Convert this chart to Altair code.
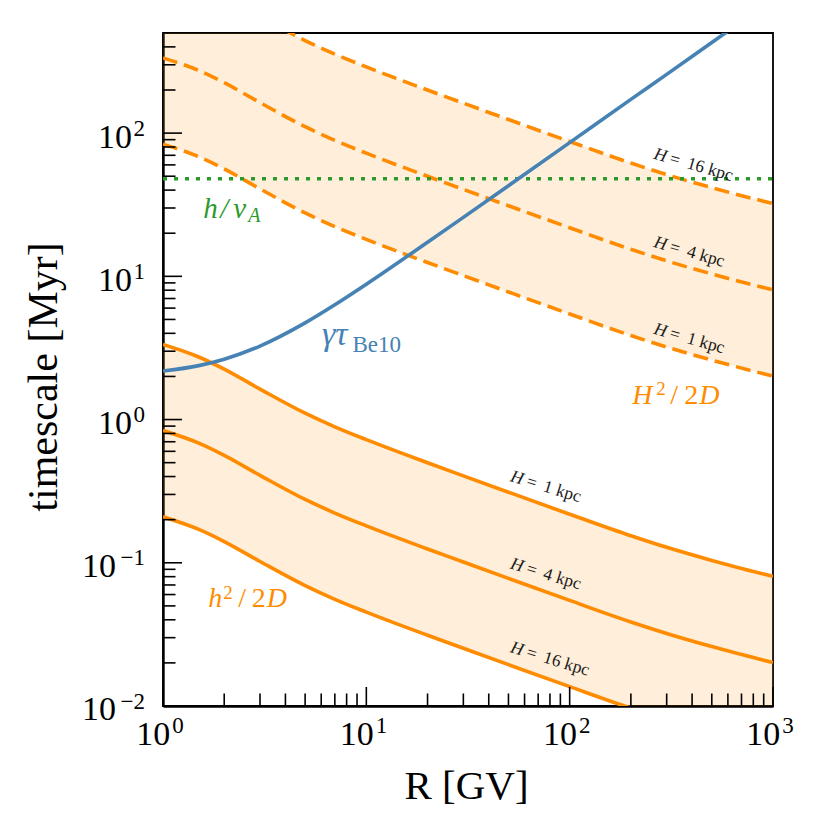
import altair as alt
import pandas as pd

SERIF = "'Liberation Serif', 'Times New Roman', Times, 'Nimbus Roman', serif"
ORANGE = "#ff8c00"
BLUE = "#4682b4"
GREEN = "#2b9a2b"
INK = "#1a1a1a"

W, H = 610, 673  # plot area [px]
LW = 3.6         # curve width

# ---------------- data ----------------
rigidity = [1, 1.5, 2, 3, 5, 7, 10, 20, 30, 50, 100, 200, 300, 500, 1000]  # GV

# disc crossing time h^2/2D for three halo heights [Myr]
disc_H1 = [3.35, 2.735, 2.249, 1.633, 1.108, 0.890, 0.724, 0.4995, 0.4046, 0.3111, 0.2184, 0.1544, 0.1282, 0.1039, 0.0804]
disc_H4 = [0.8375, 0.684, 0.562, 0.408, 0.277, 0.2225, 0.181, 0.1249, 0.1012, 0.0778, 0.0546, 0.0386, 0.0321, 0.0260, 0.0201]
disc_H16 = [0.2094, 0.1709, 0.1406, 0.1021, 0.0693, 0.0556, 0.04525, 0.0312, 0.0253, 0.01944, 0.01365, 0.00965, 0.00801, 0.00649, 0.00503]

# halo escape time H^2/2D [Myr]
halo_H1 = [83.75, 68.4, 56.2, 40.8, 27.7, 22.25, 18.1, 12.49, 10.12, 7.78, 5.46, 3.86, 3.205, 2.60, 2.01]
halo_H4 = [335, 273.5, 224.9, 163.3, 110.8, 89.0, 72.4, 49.95, 40.46, 31.11, 21.84, 15.44, 12.82, 10.39, 8.04]
halo_H16 = [1340, 1094, 900, 653, 443, 356, 290, 199.8, 161.8, 124.4, 87.4, 61.8, 51.3, 41.6, 32.2]

# boosted 10Be lifetime [Myr]
gamma_tau_be10 = [2.18, 2.38, 2.64, 3.26, 4.73, 6.33, 8.81, 17.3, 25.8, 42.9, 85.8, 172, 257, 429, 858]

# Alfven crossing time h/v_A [Myr]
alfven_rigidity = [1, 1000]
alfven_time = [48, 48]

# axis ticks
x_major = [1, 10, 100, 1000]
x_exponents = ["0", "1", "2", "3"]
x_minor = [m * 10.0 ** e for e in range(0, 3) for m in range(2, 10)]
y_major = [0.01, 0.1, 1, 10, 100]
y_exponents = ["\u22122", "\u22121", "0", "1", "2"]
y_minor = [m * 10.0 ** e for e in range(-2, 3) for m in range(2, 10) if m * 10.0 ** e < 500]

# curve labels: left end of each label (R, t)
halo_label_R = [261, 261, 261]
halo_label_t = [4.31, 17.35, 71.7]
disc_label_R = [51.5, 51.5, 51.5]
disc_label_t = [0.4015, 0.0987, 0.0257]
label_H = ["1", "4", "16"]

# ---------------- scales / axes ----------------
xscale = alt.Scale(type="log", domain=[1, 1000], nice=False)
yscale = alt.Scale(type="log", domain=[0.01, 500], nice=False)

x_axis = alt.Axis(title="R [GV]", labels=False, ticks=False, grid=False,
                  domainColor="black", domainWidth=2.4,
                  titleFont=SERIF, titleFontSize=41, titleFontWeight="normal", titleColor="black",
                  titleX=W / 2 - 2, titleY=92, titleAlign="center", titleBaseline="alphabetic")
y_axis = alt.Axis(title="timescale [Myr]", labels=False, ticks=False, grid=False,
                  domainColor="black", domainWidth=2.4,
                  titleFont=SERIF, titleFontSize=42, titleFontWeight="normal", titleColor="black",
                  titleX=-107, titleY=H / 2 + 7, titleAngle=270, titleAlign="center",
                  titleBaseline="alphabetic")


def X(field):
    return alt.X(field, type="quantitative", scale=xscale, axis=x_axis)


def Y(field):
    return alt.Y(field, type="quantitative", scale=yscale, axis=y_axis)


def long_table(series):
    rows = []
    for name, vals in series.items():
        for r, v in zip(rigidity, vals):
            rows.append({"R": r, "t": v, "series": name})
    return pd.DataFrame(rows)


disc_df = long_table({"H1": disc_H1, "H4": disc_H4, "H16": disc_H16})
halo_df = long_table({"H1": halo_H1, "H4": halo_H4, "H16": halo_H16})
disc_band = pd.DataFrame({"R": rigidity, "lo": disc_H16, "hi": disc_H1})
halo_band = pd.DataFrame({"R": rigidity, "lo": halo_H1, "hi": halo_H16})
be_df = pd.DataFrame({"R": rigidity, "t": gamma_tau_be10})
alfven_df = pd.DataFrame({"R": alfven_rigidity, "t": alfven_time})

layers = []

# shaded ranges between the smallest and largest halo
for band in (disc_band, halo_band):
    layers.append(
        alt.Chart(band).mark_area(color=ORANGE, opacity=0.15, clip=True, interpolate="monotone")
        .encode(x=X("R"), y=Y("lo"), y2=alt.Y2("hi"))
    )

layers.append(
    alt.Chart(disc_df).mark_line(color=ORANGE, strokeWidth=LW, clip=True, interpolate="monotone")
    .encode(x=X("R"), y=Y("t"), detail="series:N")
)
layers.append(
    alt.Chart(halo_df).mark_line(color=ORANGE, strokeWidth=LW, strokeDash=[15, 7], clip=True,
                                 interpolate="monotone")
    .encode(x=X("R"), y=Y("t"), detail="series:N")
)
layers.append(
    alt.Chart(alfven_df).mark_line(color=GREEN, strokeWidth=3.7, strokeDash=[4, 7], clip=True)
    .encode(x=X("R"), y=Y("t"))
)
layers.append(
    alt.Chart(be_df).mark_line(color=BLUE, strokeWidth=LW, clip=True, interpolate="monotone")
    .encode(x=X("R"), y=Y("t"))
)


# inward ticks
def y_ticks(vals, length):
    return alt.Chart(pd.DataFrame({"v": vals})).mark_rule(color="black", strokeWidth=1.6).encode(
        y=Y("v"), x=alt.value(0), x2=alt.value(length))


def x_ticks(vals, length):
    return alt.Chart(pd.DataFrame({"v": vals})).mark_rule(color="black", strokeWidth=1.6).encode(
        x=X("v"), y=alt.value(H), y2=alt.value(H - length))


layers += [y_ticks(y_major, 19), y_ticks(y_minor, 12.5), x_ticks(x_major, 19), x_ticks(x_minor, 12.5)]

# tick labels written as 10 with a raised exponent
ylab = pd.DataFrame({"v": y_major, "e": y_exponents})
ylab_pos = ylab[ylab["v"] >= 1]
ylab_neg = ylab[ylab["v"] < 1]
for df, base_x in ((ylab_pos, -31), (ylab_neg, -47)):
    layers.append(
        alt.Chart(df).mark_text(text="10", font=SERIF, fontSize=34, align="right",
                                baseline="alphabetic", dy=14.4, color="black")
        .encode(y=Y("v"), x=alt.value(base_x))
    )
layers.append(
    alt.Chart(ylab).mark_text(font=SERIF, fontSize=23, align="right", baseline="alphabetic",
                              dy=2.7, color="black")
    .encode(y=Y("v"), x=alt.value(-18), text="e:N")
)
xlab = pd.DataFrame({"v": x_major, "e": x_exponents})
layers.append(
    alt.Chart(xlab).mark_text(text="10", font=SERIF, fontSize=34, align="right",
                              baseline="alphabetic", dx=7.3, color="black")
    .encode(x=X("v"), y=alt.value(H + 39))
)
layers.append(
    alt.Chart(xlab).mark_text(font=SERIF, fontSize=23, align="left", baseline="alphabetic",
                              dx=9.3, color="black")
    .encode(x=X("v"), y=alt.value(H + 27), text="e:N")
)


# text pieces anchored in data coordinates
def piece(R, t, text, dx=0, dy=0, size=28, style="normal", color=INK,
          baseline="alphabetic", angle=None):
    kw = dict(text=text, dx=dx, dy=dy, fontSize=size, font=SERIF, fontStyle=style,
              color=color, align="left", baseline=baseline)
    if angle is not None:
        kw["angle"] = angle
    return alt.Chart(pd.DataFrame({"R": [R], "t": [t]})).mark_text(**kw).encode(x=X("R"), y=Y("t"))


# H = ... kpc labels along the curves
for Rs, ts, ang in ((halo_label_R, halo_label_t, 16), (disc_label_R, disc_label_t, 17)):
    for R, t, hv in zip(Rs, ts, label_H):
        layers.append(piece(R, t, "H", size=17.5, style="italic", baseline="middle", angle=ang))
        layers.append(piece(R, t, "= \u2009" + hv + " kpc", dx=16.5, size=17.5,
                            baseline="middle", angle=ang))

# h^2/2D
layers += [
    piece(1.67, 0.0492, "h", size=28, style="italic", color=ORANGE),
    piece(1.67, 0.0492, "2", dx=15, dy=-8, size=19, color=ORANGE),
    piece(1.67, 0.0492, "/", dx=30, size=28, color=ORANGE),
    piece(1.67, 0.0492, "2", dx=43.5, size=28, color=ORANGE),
    piece(1.67, 0.0492, "D", dx=58.5, size=28, style="italic", color=ORANGE),
]
# H^2/2D
layers += [
    piece(203.4, 1.29, "H", size=28, style="italic", color=ORANGE),
    piece(203.4, 1.29, "2", dx=24, dy=-9, size=19, color=ORANGE),
    piece(203.4, 1.29, "/", dx=38, size=28, color=ORANGE),
    piece(203.4, 1.29, "2", dx=52, size=28, color=ORANGE),
    piece(203.4, 1.29, "D", dx=67, size=28, style="italic", color=ORANGE),
]
# h/v_A
layers += [
    piece(1.578, 25.6, "h", size=29, style="italic", color=GREEN),
    piece(1.578, 25.6, "/", dx=17, size=29, style="italic", color=GREEN),
    piece(1.578, 25.6, "v", dx=30, size=29, style="italic", color=GREEN),
    piece(1.578, 25.6, "A", dx=45, dy=4, size=20, style="italic", color=GREEN),
]
# gamma tau_Be10
layers += [
    piece(6.05, 3.33, "\u03b3\u03c4", size=34, style="italic", color=BLUE),
    piece(6.05, 3.33, "Be10", dx=30.5, dy=7, size=23, color=BLUE),
]

chart = (
    alt.layer(*layers)
    .properties(width=W, height=H, autosize=alt.AutoSizeParams(type="none"),
                padding={"left": 163, "top": 33, "right": 42, "bottom": 109},
                background="white")
    .configure_view(stroke="black", strokeWidth=1.8)
)

chart.save("out.html", embed_options={"renderer": "svg", "actions": False})
